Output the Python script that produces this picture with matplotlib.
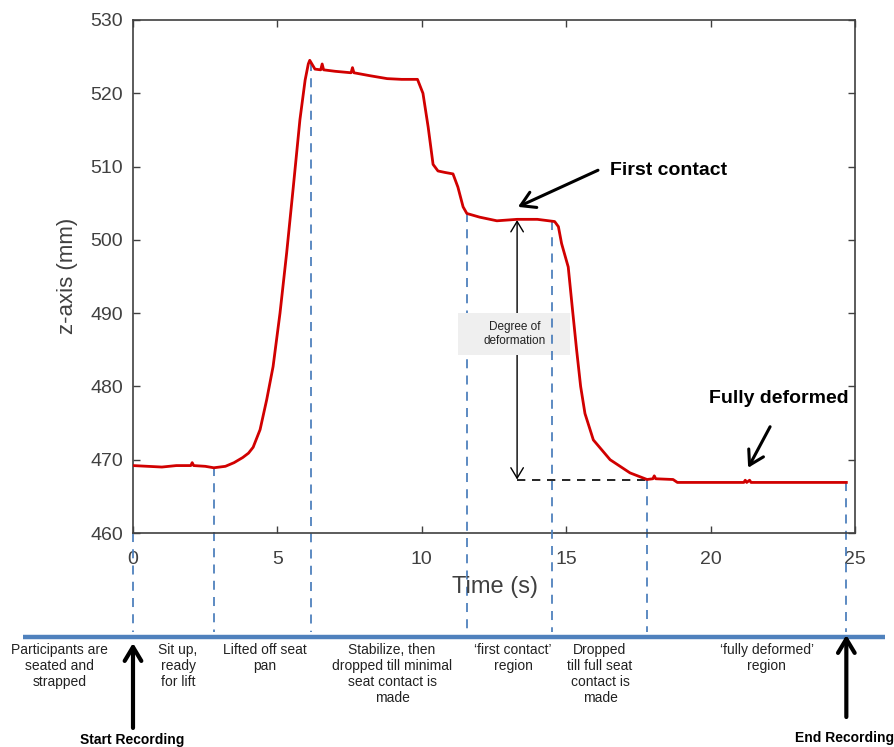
import matplotlib.pyplot as plt
from matplotlib.patches import Rectangle

plt.rcParams['font.family'] = ['Liberation Sans', 'DejaVu Sans']

W, H = 894, 747

# z-axis trace
time_s = [0, 0.5, 1.0, 1.5, 2.0, 2.05, 2.1, 2.5, 2.8, 3.2, 3.5, 3.8, 4.0, 4.16,
          4.4, 4.63, 4.85, 5.09, 5.32, 5.55, 5.78, 5.96, 6.07, 6.12, 6.3, 6.5,
          6.55, 6.6, 7.0, 7.55, 7.6, 7.65, 8.2, 8.8, 9.3, 9.85, 10.04, 10.22,
          10.39, 10.56, 10.8, 11.08, 11.25, 11.43, 11.56, 12.0, 12.6, 13.3, 14.0,
          14.6, 14.73, 14.84, 15.07, 15.22, 15.36, 15.5, 15.65, 15.94, 16.52,
          17.21, 17.8, 18.0, 18.05, 18.1, 18.7, 18.85, 20.0, 21.15, 21.2, 21.25,
          21.35, 21.4, 23.0, 24.7]
z_mm = [469.2, 469.1, 469.0, 469.2, 469.2, 469.6, 469.2, 469.1, 468.9, 469.1,
        469.6, 470.3, 470.9, 471.7, 474.1, 478.2, 482.7, 490.0, 498.2, 507.2,
        516.4, 521.8, 524.0, 524.5, 523.3, 523.2, 524.0, 523.2, 523.0, 522.8,
        523.5, 522.8, 522.4, 522.0, 521.9, 521.9, 520.0, 515.4, 510.3, 509.4,
        509.2, 509.0, 507.2, 504.5, 503.6, 503.1, 502.6, 502.8, 502.8, 502.5,
        501.8, 499.5, 496.3, 490.4, 485.0, 480.0, 476.3, 472.7, 470.0, 468.2,
        467.3, 467.4, 467.8, 467.4, 467.3, 466.9, 466.9, 466.9, 467.2, 466.9,
        467.2, 466.9, 466.9, 466.9]

# phase boundaries (blue dashed markers) and the trace height where each starts
event_t = [0, 2.8, 6.15, 11.57, 14.5, 17.8, 24.7]
event_z = [460, 469.0, 524.3, 503.6, 502.6, 467.3, 466.9]

phase_labels = ['Participants are\nseated and\nstrapped',
                'Sit up,\nready\nfor lift',
                'Lifted off seat\npan',
                'Stabilize, then\ndropped till minimal\nseat contact is\nmade',
                '\u2018first contact\u2019\nregion',
                'Dropped\ntill full seat\ncontact is\nmade',
                '\u2018fully deformed\u2019\nregion']
label_t = [-2.53, 1.56, 4.57, 8.97, 13.16, 16.17, 21.95]

first_contact_z = 502.7
deformed_z = 467.3
degree_t = 13.3

fig = plt.figure(figsize=(W / 100, H / 100), dpi=100)
ax = fig.add_axes([133 / W, 1 - 533 / H, 722 / W, 513 / H])

gray = '#404040'
blue = '#4f81bd'

ax.plot(time_s, z_mm, color='#d10000', lw=2.0, zorder=4)
ax.set_xlim(0, 25)
ax.set_ylim(460, 530)
ax.set_xticks([0, 5, 10, 15, 20, 25])
ax.set_yticks(range(460, 531, 10))
ax.tick_params(direction='in', length=5, width=1, colors=gray, labelsize=14,
               top=True, right=True)
ax.tick_params(axis='x', pad=13)
ax.tick_params(axis='y', pad=7)
for s in ax.spines.values():
    s.set_color(gray)
    s.set_linewidth(1.2)

fig.text(495 / W, 1 - 587 / H, 'Time (s)', fontsize=17, color=gray,
         ha='center', va='center')
fig.text(68 / W, 1 - 276 / H, 'z-axis (mm)', fontsize=16, color=gray,
         ha='center', va='center', rotation=90)

# dashed phase markers running down to the timeline
bottom_z = 460 - 0.193 * 70
for i, (t, z) in enumerate(zip(event_t, event_z)):
    ax.plot([t, t], [z, bottom_z], color=blue, lw=1.3, dashes=(5, 4),
            clip_on=False, zorder=3.5 if i == 4 else 2)

xt = ax.get_xaxis_transform()
ax.plot([-3.81, 26.04], [-0.2027, -0.2027], color=blue, lw=3.2,
        transform=xt, clip_on=False, solid_capstyle='butt')

for t, lab in zip(label_t, phase_labels):
    ax.text(t, -0.214, lab, transform=xt, ha='center', va='top', fontsize=10,
            color='#222222', linespacing=1.2)

# start / end recording arrows
ax.annotate('', xy=(0, -0.2144), xytext=(0, -0.38), xycoords=xt, textcoords=xt,
            arrowprops=dict(arrowstyle='->,head_length=0.5,head_width=0.3',
                            lw=3, color='black', mutation_scale=20,
                            shrinkA=0, shrinkB=0))
ax.annotate('', xy=(24.7, -0.1988), xytext=(24.7, -0.3587), xycoords=xt,
            textcoords=xt,
            arrowprops=dict(arrowstyle='->,head_length=0.5,head_width=0.3',
                            lw=3, color='black', mutation_scale=20,
                            shrinkA=0, shrinkB=0))
ax.text(-0.03, -0.4035, 'Start Recording', transform=xt, ha='center',
        va='center', fontsize=10, fontweight='bold')
ax.text(24.65, -0.3996, 'End Recording', transform=xt, ha='center',
        va='center', fontsize=10, fontweight='bold')

# degree of deformation
ax.annotate('', xy=(degree_t, deformed_z), xytext=(degree_t, first_contact_z),
            arrowprops=dict(arrowstyle='<->,head_length=0.5,head_width=0.3',
                            lw=1, color='black', mutation_scale=15,
                            shrinkA=0, shrinkB=0), zorder=2.5)
ax.plot([degree_t, event_t[5]], [deformed_z, deformed_z], color='black',
        lw=1.2, dashes=(5, 4), zorder=2)
ax.add_patch(Rectangle((11.25, 484.3), 3.88, 5.7, fc='#efefef', ec='none',
                       zorder=3))
ax.text(13.23, 487.2, 'Degree of\ndeformation', ha='center', va='center',
        fontsize=8.5, color='#222222', zorder=3.2)

# callouts
ax.text(16.52, 509.4, 'First contact', fontsize=14, fontweight='bold',
        ha='left', va='center')
ax.annotate('', xy=(13.33, 504.5), xytext=(16.1, 509.5),
            arrowprops=dict(arrowstyle='->,head_length=0.5,head_width=0.3',
                            lw=2.2, color='black', mutation_scale=20,
                            shrinkA=0, shrinkB=0))
ax.text(19.95, 478.3, 'Fully deformed', fontsize=14, fontweight='bold',
        ha='left', va='center')
ax.annotate('', xy=(21.3, 468.9), xytext=(22.06, 474.5),
            arrowprops=dict(arrowstyle='->,head_length=0.5,head_width=0.3',
                            lw=2.2, color='black', mutation_scale=20,
                            shrinkA=0, shrinkB=0))

fig.savefig('out.png', dpi=100)
